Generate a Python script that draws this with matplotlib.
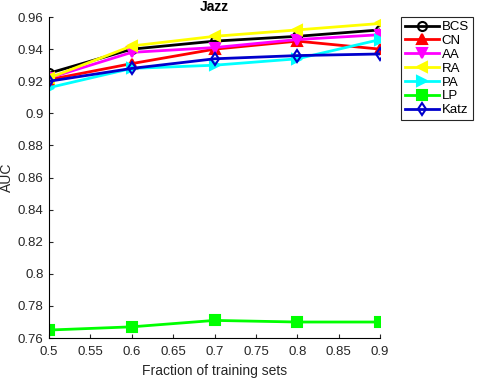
import numpy as np
import matplotlib.pyplot as plt

plt.rcParams["font.family"] = ["Liberation Sans", "DejaVu Sans"]

fractions = [0.5, 0.6, 0.7, 0.8, 0.9]
bcs = [0.925, 0.940, 0.945, 0.948, 0.952]
cn = [0.921, 0.931, 0.940, 0.945, 0.940]
aa = [0.922, 0.938, 0.941, 0.946, 0.949]
ra = [0.922, 0.942, 0.948, 0.952, 0.956]
pa = [0.916, 0.928, 0.930, 0.934, 0.946]
lp = [0.765, 0.767, 0.771, 0.770, 0.770]
katz = [0.920, 0.928, 0.934, 0.936, 0.937]

series = [
    ("BCS", bcs, "black", "o"),
    ("CN", cn, "red", "^"),
    ("AA", aa, "magenta", "v"),
    ("RA", ra, "yellow", "<"),
    ("PA", pa, "cyan", ">"),
    ("LP", lp, "lime", "s"),
    ("Katz", katz, "#0000CC", "d"),
]


def main():
    fig = plt.figure(figsize=(4.8, 3.79), dpi=100)
    ax = fig.add_axes([0.102, 0.108, 0.69, 0.847])

    for name, vals, color, marker in series:
        mfc = "none" if marker in ("o", "d") else color
        ax.plot(fractions, vals, color=color, linewidth=2, marker=marker,
                markersize=6.5, markerfacecolor=mfc, markeredgewidth=1.5,
                label=name)

    ax.set_xlim(0.5, 0.9)
    ax.set_ylim(0.76, 0.96)
    ax.set_xticks(np.arange(0.5, 0.91, 0.05))
    ax.set_xticklabels(["0.5", "0.55", "0.6", "0.65", "0.7", "0.75", "0.8",
                        "0.85", "0.9"])
    ax.set_yticks(np.arange(0.76, 0.961, 0.02))
    ax.set_yticklabels(["0.76", "0.78", "0.8", "0.82", "0.84", "0.86",
                        "0.88", "0.9", "0.92", "0.94", "0.96"])
    ax.tick_params(direction="in", labelsize=9.5, colors="#262626", length=3)
    ax.tick_params(axis="x", pad=6)
    ax.tick_params(axis="y", pad=4)
    ax.spines["top"].set_visible(False)
    ax.spines["right"].set_visible(False)
    ax.set_xlabel("Fraction of training sets", fontsize=10, color="#262626",
                  labelpad=4)
    ax.set_ylabel("AUC", fontsize=10, color="#262626", labelpad=3)
    ax.set_title("Jazz", fontsize=10, fontweight="bold", pad=4)

    leg = ax.legend(loc="upper left", bbox_to_anchor=(0.835, 0.955),
                    bbox_transform=fig.transFigure, fontsize=9.5,
                    borderaxespad=0, handlelength=2.6, handletextpad=0.2,
                    borderpad=0.3, labelspacing=0.12, fancybox=False,
                    framealpha=1)
    leg.get_frame().set_edgecolor("#262626")
    leg.get_frame().set_linewidth(0.8)

    fig.savefig("out.png", dpi=100)


if __name__ == "__main__":
    main()
